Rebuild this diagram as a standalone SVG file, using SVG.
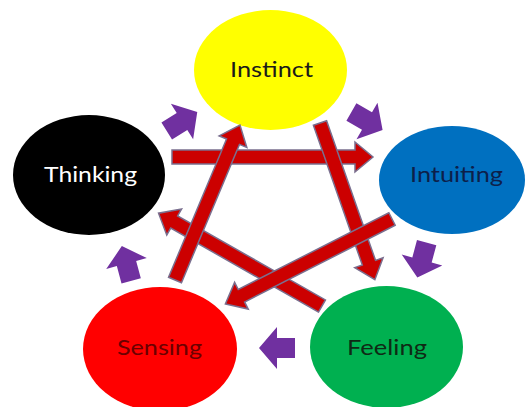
<svg xmlns="http://www.w3.org/2000/svg" width="530" height="407" viewBox="0 0 530 407">
<style>
.lbl{font-family:Lato,"Open Sans","Liberation Sans",sans-serif;font-size:21px;text-anchor:middle}
.red{fill:#cc0000;stroke:#7a6f8f;stroke-width:1.5;stroke-linejoin:miter}
.pur{fill:#7030a0}
</style>
<defs>
<path id="pa" d="M-18,-10 H0 V-21 L18,0 L0,21 V10 H-18 Z"/>
</defs>
<rect width="530" height="407" fill="#ffffff"/>
<g id="node-instinct">
<ellipse cx="270.5" cy="70" rx="76.5" ry="60" fill="#ffff00"/>
<text class="lbl" x="271.5" y="77" fill="#1a1a1a" textLength="83" lengthAdjust="spacingAndGlyphs">Instinct</text>
</g>
<g id="node-thinking">
<ellipse cx="89" cy="175" rx="76" ry="60" fill="#000000"/>
<text class="lbl" x="90.5" y="182" fill="#ffffff" textLength="93" lengthAdjust="spacingAndGlyphs">Thinking</text>
</g>
<g id="node-intuiting">
<ellipse cx="452" cy="180" rx="73" ry="54" fill="#0070c0"/>
<text class="lbl" x="456.5" y="182" fill="#0d1f4a" textLength="93" lengthAdjust="spacingAndGlyphs">Intuiting</text>
</g>
<g id="node-sensing">
<ellipse cx="160" cy="349" rx="77" ry="62" fill="#ff0000"/>
<text class="lbl" x="159.5" y="355" fill="#6b0000" textLength="85" lengthAdjust="spacingAndGlyphs">Sensing</text>
</g>
<g id="node-feeling">
<ellipse cx="386.5" cy="347" rx="76.5" ry="61" fill="#00b050"/>
<text class="lbl" x="387" y="355" fill="#0f2a15" textLength="80" lengthAdjust="spacingAndGlyphs">Feeling</text>
</g>
<g id="connectors">
<g id="star-arrows">
<path class="red" d="M0,-7 H170 V-15 L188,0 L170,15 V7 H0 Z" transform="translate(322,306) rotate(-150.4)"/>
<path class="red" d="M0,-7 H183 V-15 L201,0 L183,15 V7 H0 Z" transform="translate(172,157)"/>
<path class="red" d="M0,-7 H148 V-15 L166,0 L148,15 V7 H0 Z" transform="translate(320,123) rotate(70.7)"/>
<path class="red" d="M0,-7 H150 V-15 L168,0 L150,15 V7 H0 Z" transform="translate(175,280) rotate(-67.25)"/>
<path class="red" d="M0,-7 H169 V-15 L187,0 L169,15 V7 H0 Z" transform="translate(392,219) rotate(153)"/>
</g>
<g id="cycle-arrows">
<use href="#pa" class="pur" transform="translate(182,121.5) rotate(-32)"/>
<use href="#pa" class="pur" transform="translate(367,121) rotate(30)"/>
<use href="#pa" class="pur" transform="translate(422,260) rotate(105)"/>
<use href="#pa" class="pur" transform="translate(277,348) rotate(180)"/>
<use href="#pa" class="pur" transform="translate(126.5,263.5) rotate(-105)"/>
</g>
</g>
</svg>
